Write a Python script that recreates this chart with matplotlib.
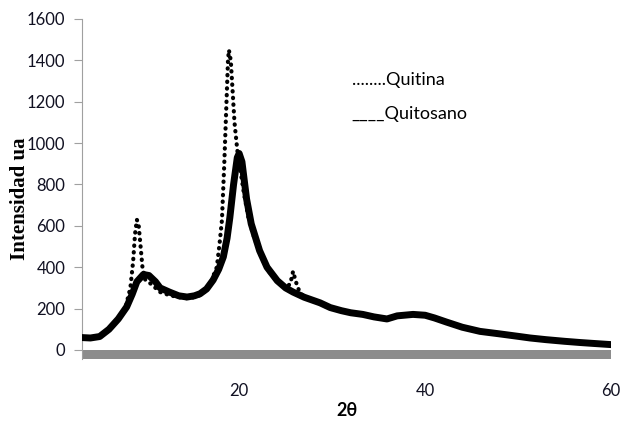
import matplotlib
matplotlib.use("Agg")
import matplotlib.pyplot as plt

# two-theta / intensity
quitosano_x = [3.1, 4, 5, 6, 7, 7.9, 8.5, 9, 9.7, 10.3, 11, 11.5, 12.5, 13.5, 14.4, 15.2,
               15.8, 16.5, 17.2, 17.8, 18.3, 18.7, 19, 19.4, 19.8, 20, 20.3, 20.8, 21.3,
               22.2, 23, 24.1, 25, 25.8, 27, 28.7, 29.8, 31, 32, 33.3, 34.5, 35.9, 37,
               38.7, 40, 41, 42.3, 44, 45.9, 48, 50, 51.3, 53, 55, 56.7, 58, 60]
quitosano_y = [60, 58, 65, 100, 150, 208, 270, 330, 365, 360, 330, 300, 280, 262, 256, 262,
               272, 295, 338, 390, 450, 540, 640, 800, 930, 950, 910, 730, 610,
               480, 400, 335, 300, 280, 255, 228, 205, 190, 180, 172, 160, 150, 165,
               172, 168, 155, 135, 110, 90, 78, 66, 58, 50, 42, 36, 32, 26]

quitina_x = [3.1, 4, 5, 6, 7, 7.8, 8.3, 8.6, 8.8, 9.0, 9.2, 9.4, 9.6, 9.9, 10.5, 11, 11.5,
             12.5, 13.5, 14.4, 15.2, 15.8, 16.5, 17.0, 17.4, 17.6, 17.9, 18.15, 18.4, 18.6,
             18.8, 18.9, 19.1, 19.3, 19.5, 19.8, 20.1, 20.5, 21, 21.5, 22.2, 23, 24.1, 25,
             25.5, 25.8, 26.1, 26.5, 27, 28.7, 29.8, 31, 32, 33.3, 34.5, 35.9, 37, 38.7,
             40, 41, 42.3, 44, 45.9, 48, 50, 51.3, 53, 55, 56.7, 58, 60]
quitina_y = [55, 55, 62, 95, 145, 210, 300, 430, 560, 630, 600, 500, 400, 340, 320, 300, 280,
             265, 255, 250, 255, 265, 290, 330, 380, 400, 517, 628, 900, 1150,
             1400, 1450, 1400, 1250, 1100, 966, 880, 760, 640, 560, 470, 390, 330, 300,
             320, 380, 330, 280, 255, 225, 200, 188, 178, 170, 158, 148, 162, 170,
             165, 152, 132, 108, 88, 76, 64, 56, 48, 40, 34, 30, 24]

x_ticks = [20, 40, 60]
y_ticks = [0, 200, 400, 600, 800, 1000, 1200, 1400, 1600]

label_font = ["Lato", "DejaVu Sans"]

fig = plt.figure(figsize=(6.28, 4.24), dpi=100)
ax = fig.add_axes([0.1306, 0.1526, 0.8424, 0.8026])

# grey floor below zero, like the spreadsheet original
ax.axhspan(-45, 0, color="#8c8c8c", lw=0, zorder=1)

ax.plot(quitina_x, quitina_y, color="black", lw=3.0,
        linestyle=(0, (0.1, 1.5)), dash_capstyle="round", zorder=3)
ax.plot(quitosano_x, quitosano_y, color="black", lw=5.0,
        solid_joinstyle="round", zorder=4)

ax.set_xlim(3.1, 60)
ax.set_ylim(-45, 1600)
ax.set_xticks(x_ticks)
ax.set_yticks(y_ticks)

for s in ["top", "right", "bottom"]:
    ax.spines[s].set_visible(False)
ax.spines["left"].set_color("#a0a0a0")
ax.tick_params(axis="y", direction="out", length=6, color="#a0a0a0", pad=6)
ax.tick_params(axis="x", length=0, pad=17)
for lab in ax.get_xticklabels() + ax.get_yticklabels():
    lab.set_family(label_font)
    lab.set_fontsize(12)
    lab.set_color("#111122")

ax.set_ylabel("Intensidad ua", family="Liberation Serif", fontweight="bold",
              fontsize=15)
ax.yaxis.set_label_coords(-0.098, 0.473)
ax.set_xlabel("2θ", family=label_font, fontweight="bold", fontsize=13, labelpad=2)

ax.text(0.51, 0.821, "........Quitina", transform=ax.transAxes,
        family=label_font, fontsize=13, va="center")
ax.text(0.51, 0.72, "____Quitosano", transform=ax.transAxes,
        family=label_font, fontsize=13, va="center")

fig.savefig("out.png", dpi=100)
